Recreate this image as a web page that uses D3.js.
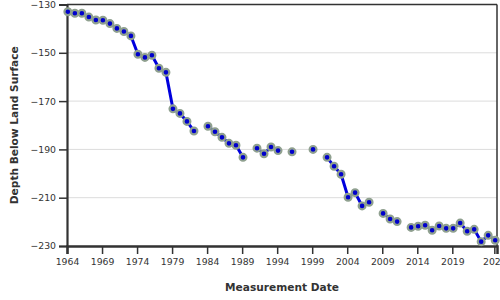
<!DOCTYPE html>
<html>
<head>
<meta charset="utf-8">
<script src="https://cdn.jsdelivr.net/npm/d3@7"></script>
<style>
  body { margin: 0; background: #fff; }
  text { font-family: "DejaVu Sans", sans-serif; }
</style>
</head>
<body>
<div id="chart"></div>
<script>
// measurement years and depth below land surface (ft)
var years = [1964, 1965, 1966, 1967, 1968, 1969, 1970, 1971, 1972, 1973,
             1974, 1975, 1976, 1977, 1978, 1979, 1980, 1981, 1982,
             1984, 1985, 1986, 1987, 1988, 1989,
             1991, 1992, 1993, 1994, 1996, 1999,
             2001, 2002, 2003, 2004, 2005, 2006, 2007,
             2009, 2010, 2011,
             2013, 2014, 2015, 2016, 2017, 2018, 2019, 2020, 2021, 2022, 2023, 2024, 2025];
var depths = [-133.0, -133.6, -133.6, -135.2, -136.4, -136.5, -137.9, -139.9, -141.2, -143.0,
              -150.6, -151.9, -151.0, -156.4, -158.1, -173.2, -175.1, -178.4, -182.4,
              -180.4, -182.7, -185.0, -187.5, -188.3, -193.3,
              -189.5, -191.8, -189.0, -190.5, -191.0, -190.0,
              -193.3, -197.0, -200.3, -209.8, -207.9, -213.4, -211.9,
              -216.5, -218.8, -219.9,
              -222.3, -221.8, -221.4, -223.5, -221.7, -222.7, -222.7, -220.5, -223.9, -223.1, -228.2, -225.6, -227.6];
var yTicks = [-130, -150, -170, -190, -210, -230];
var xTickYears = [1964, 1969, 1974, 1979, 1984, 1989, 1994, 1999, 2004, 2009, 2014, 2019, 2025];

var margin = {top: 4.5, right: 3, bottom: 54, left: 67},
    width = 500 - margin.left - margin.right,
    height = 300 - margin.top - margin.bottom;

var svg = d3.select("#chart")
  .append("svg")
    .attr("width", 500)
    .attr("height", 300)
  .append("g")
    .attr("transform", "translate(" + margin.left + "," + margin.top + ")");

// measurements were taken around mid-February each year
var data = years.map(function(y, i) {
  return {year: y, date: new Date(y, 1, 15), value: depths[i]};
});

var x = d3.scaleTime()
  .domain([new Date(1964, 0, 1), new Date(2025, 4, 20)])
  .range([0, width]);

var y = d3.scaleLinear()
  .domain([-230, -130])
  .range([height, 0]);

// horizontal grid
svg.append("g")
  .selectAll("line")
  .data(yTicks)
  .enter().append("line")
    .attr("x1", 0)
    .attr("x2", width)
    .attr("y1", function(d) { return y(d); })
    .attr("y2", function(d) { return y(d); })
    .attr("stroke", "#dcdcdc")
    .attr("stroke-width", 1);

// top and right frame
svg.append("line")
  .attr("x1", 0).attr("x2", width)
  .attr("y1", 0).attr("y2", 0)
  .attr("stroke", "#333").attr("stroke-width", 1.5);
svg.append("line")
  .attr("x1", width).attr("x2", width)
  .attr("y1", 0).attr("y2", height)
  .attr("stroke", "#333").attr("stroke-width", 1.5);

// Y axis
var yAxis = svg.append("g")
  .call(d3.axisLeft(y).tickValues(yTicks).tickSize(8).tickPadding(3));
yAxis.select(".domain").attr("stroke", "#333").attr("stroke-width", 2.2);
yAxis.selectAll(".tick line").attr("stroke", "#333").attr("stroke-width", 1.5);
yAxis.selectAll(".tick text")
  .attr("fill", "#333")
  .style("font-size", "9.3px")
  .style("font-family", "DejaVu Sans");

// X axis
var xAxis = svg.append("g")
  .attr("transform", "translate(0," + height + ")")
  .call(d3.axisBottom(x)
    .tickValues(xTickYears.map(function(d) { return new Date(d, 0, 1); }))
    .tickFormat(d3.timeFormat("%Y"))
    .tickSize(8)
    .tickPadding(4));
xAxis.select(".domain").attr("stroke", "#333").attr("stroke-width", 2.5);
xAxis.selectAll(".tick line").attr("stroke", "#333").attr("stroke-width", 1.5);
xAxis.selectAll(".tick text")
  .attr("fill", "#333")
  .style("font-size", "9.3px")
  .style("font-family", "DejaVu Sans");

// line, broken where a year is missing
var line = d3.line()
  .defined(function(d) { return d != null; })
  .x(function(d) { return x(d.date); })
  .y(function(d) { return y(d.value); });

var withGaps = [];
data.forEach(function(d, i) {
  if (i > 0 && d.year - data[i - 1].year > 1) withGaps.push(null);
  withGaps.push(d);
});

svg.append("path")
  .datum(withGaps)
  .attr("fill", "none")
  .attr("stroke", "#0000dd")
  .attr("stroke-width", 3)
  .attr("d", line);

// points
svg.append("g")
  .selectAll("circle")
  .data(data)
  .enter().append("circle")
    .attr("cx", function(d) { return x(d.date); })
    .attr("cy", function(d) { return y(d.value); })
    .attr("r", 3.4)
    .attr("fill", "#0000cc")
    .attr("stroke", "#8fa08f")
    .attr("stroke-width", 2.2);

// text label for the x axis
svg.append("text")
  .attr("x", width / 2)
  .attr("y", height + 45)
  .attr("text-anchor", "middle")
  .attr("fill", "#333")
  .style("font-size", "10.6px")
  .style("font-weight", "bold")
  .text("Measurement Date");

// text label for the y axis
svg.append("text")
  .attr("transform", "rotate(-90)")
  .attr("x", -height / 2)
  .attr("y", -margin.left + 18)
  .attr("text-anchor", "middle")
  .attr("fill", "#333")
  .style("font-size", "10.6px")
  .style("font-weight", "bold")
  .text("Depth Below Land Surface");
</script>
</body>
</html>
